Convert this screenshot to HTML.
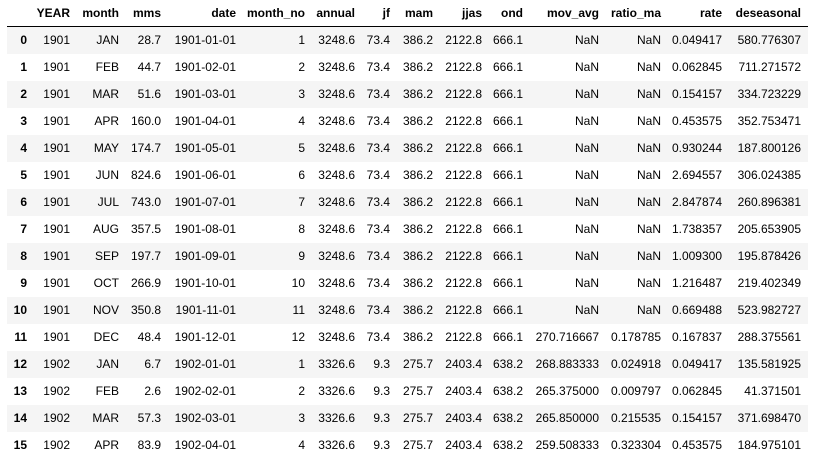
<!DOCTYPE html>
<html><head><meta charset="utf-8"><style>
body{margin:0;background:#fff;width:815px;height:465px;overflow:hidden;font-family:"Liberation Sans",Arial,sans-serif;font-size:12px;color:#000}
table{position:absolute;left:7px;top:0;border-collapse:collapse;table-layout:fixed;width:801px}
td,th{padding:0;text-align:right;white-space:nowrap;height:27px;line-height:27px}
th{font-weight:bold}
thead tr{height:26px}
thead th{height:26px;line-height:26px;border-bottom:1px solid #000}
tbody tr:nth-child(odd){background:#f5f5f5}
tbody th{padding-right:0}
</style></head><body>
<table>
<colgroup><col style="width:20px"><col style="width:43px"><col style="width:49px"><col style="width:42px"><col style="width:75px"><col style="width:69px"><col style="width:50px"><col style="width:35px"><col style="width:43px"><col style="width:49px"><col style="width:41px"><col style="width:76px"><col style="width:62px"><col style="width:61px"><col style="width:79px"><col style="width:7px"></colgroup>
<thead><tr><th></th><th>YEAR</th><th>month</th><th>mms</th><th>date</th><th>month_no</th><th>annual</th><th>jf</th><th>mam</th><th>jjas</th><th>ond</th><th>mov_avg</th><th>ratio_ma</th><th>rate</th><th>deseasonal</th><th></th></tr></thead>
<tbody id="tb"></tbody>
</table>
<script>
const rows=[
[0,1901,'JAN','28.7','1901-01-01',1,'3248.6','73.4','386.2','2122.8','666.1','NaN','NaN','0.049417','580.776307'],
[1,1901,'FEB','44.7','1901-02-01',2,'3248.6','73.4','386.2','2122.8','666.1','NaN','NaN','0.062845','711.271572'],
[2,1901,'MAR','51.6','1901-03-01',3,'3248.6','73.4','386.2','2122.8','666.1','NaN','NaN','0.154157','334.723229'],
[3,1901,'APR','160.0','1901-04-01',4,'3248.6','73.4','386.2','2122.8','666.1','NaN','NaN','0.453575','352.753471'],
[4,1901,'MAY','174.7','1901-05-01',5,'3248.6','73.4','386.2','2122.8','666.1','NaN','NaN','0.930244','187.800126'],
[5,1901,'JUN','824.6','1901-06-01',6,'3248.6','73.4','386.2','2122.8','666.1','NaN','NaN','2.694557','306.024385'],
[6,1901,'JUL','743.0','1901-07-01',7,'3248.6','73.4','386.2','2122.8','666.1','NaN','NaN','2.847874','260.896381'],
[7,1901,'AUG','357.5','1901-08-01',8,'3248.6','73.4','386.2','2122.8','666.1','NaN','NaN','1.738357','205.653905'],
[8,1901,'SEP','197.7','1901-09-01',9,'3248.6','73.4','386.2','2122.8','666.1','NaN','NaN','1.009300','195.878426'],
[9,1901,'OCT','266.9','1901-10-01',10,'3248.6','73.4','386.2','2122.8','666.1','NaN','NaN','1.216487','219.402349'],
[10,1901,'NOV','350.8','1901-11-01',11,'3248.6','73.4','386.2','2122.8','666.1','NaN','NaN','0.669488','523.982727'],
[11,1901,'DEC','48.4','1901-12-01',12,'3248.6','73.4','386.2','2122.8','666.1','270.716667','0.178785','0.167837','288.375561'],
[12,1902,'JAN','6.7','1902-01-01',1,'3326.6','9.3','275.7','2403.4','638.2','268.883333','0.024918','0.049417','135.581925'],
[13,1902,'FEB','2.6','1902-02-01',2,'3326.6','9.3','275.7','2403.4','638.2','265.375000','0.009797','0.062845','41.371501'],
[14,1902,'MAR','57.3','1902-03-01',3,'3326.6','9.3','275.7','2403.4','638.2','265.850000','0.215535','0.154157','371.698470'],
[15,1902,'APR','83.9','1902-04-01',4,'3326.6','9.3','275.7','2403.4','638.2','259.508333','0.323304','0.453575','184.975101']];
const tb=document.getElementById('tb');
rows.forEach(r=>{
const tr=document.createElement('tr');


r.forEach((v,i)=>{const c=document.createElement(i===0?'th':'td');c.textContent=v;tr.appendChild(c);});
tr.appendChild(document.createElement('td'));
tb.appendChild(tr);});
</script>
</body></html>
